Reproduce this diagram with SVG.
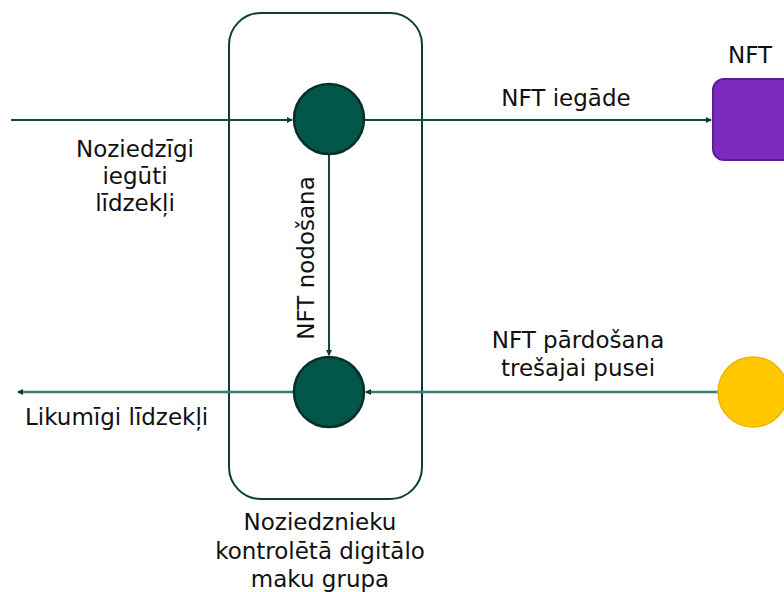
<svg xmlns="http://www.w3.org/2000/svg" width="784" height="592" viewBox="0 0 784 592">
<style>
text{font-family:"DejaVu Sans","Verdana",sans-serif;font-size:23px;fill:#111;}
.c{text-anchor:middle;}
.ln{stroke:#0D4A42;stroke-width:2;fill:none;}
.ln2{stroke:#3B7C74;stroke-width:2.5;fill:none;}
.wallet{fill:#03574A;stroke:#07302A;stroke-width:2.5;}
</style>
<defs>
<marker id="ah" viewBox="0 0 6 6" refX="5" refY="3" markerWidth="6" markerHeight="6" markerUnits="userSpaceOnUse" orient="auto">
<path d="M0,0 L6,3 L0,6 z" fill="#0D3D36"/>
</marker>
</defs>
<g id="group">
<rect x="229" y="13" width="193" height="486" rx="32" ry="32" fill="none" stroke="#0D3D36" stroke-width="2"/>
<text class="c" x="320" y="530">Noziedznieku</text>
<text class="c" x="320" y="559">kontrolētā digitālo</text>
<text class="c" x="320" y="587">maku grupa</text>
</g>
<g id="connectors">
<line class="ln" x1="11" y1="120" x2="292" y2="120" marker-end="url(#ah)"/>
<line class="ln" x1="364" y1="120" x2="711" y2="120" marker-end="url(#ah)"/>
<line class="ln" x1="329" y1="154" x2="329" y2="355" marker-end="url(#ah)"/>
<line class="ln2" x1="718" y1="392" x2="366" y2="392" marker-end="url(#ah)"/>
<line class="ln2" x1="294" y1="392" x2="18" y2="392" marker-end="url(#ah)"/>
<text class="c" x="135" y="157">Noziedzīgi</text>
<text class="c" x="135" y="184">iegūti</text>
<text class="c" x="135" y="211">līdzekļi</text>
<text class="c" x="566" y="106">NFT iegāde</text>
<text class="c" x="0" y="0" transform="translate(314,258) rotate(-90)">NFT nodošana</text>
<text class="c" x="578" y="348">NFT pārdošana</text>
<text class="c" x="578" y="376">trešajai pusei</text>
<text x="25" y="425">Likumīgi līdzekļi</text>
</g>
<g id="wallet-top">
<circle class="wallet" cx="329" cy="119" r="35"/>
</g>
<g id="wallet-bottom">
<circle class="wallet" cx="329" cy="392" r="35"/>
</g>
<g id="nft">
<rect x="713" y="79" width="90" height="81" rx="11" ry="11" fill="#7C2BC0" stroke="#5B1F92" stroke-width="2"/>
<text x="728" y="63">NFT</text>
</g>
<g id="third-party">
<circle cx="753" cy="392" r="35" fill="#FFC800" stroke="#F2B300" stroke-width="1.5"/>
</g>
</svg>
